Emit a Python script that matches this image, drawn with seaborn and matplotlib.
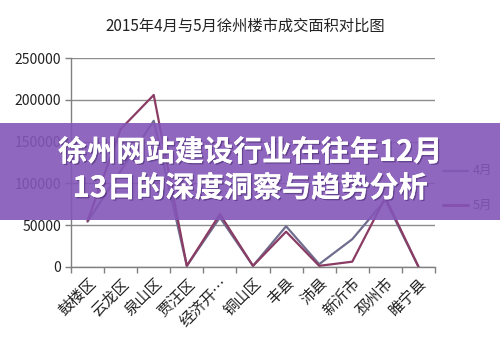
import matplotlib
matplotlib.use("Agg")
import matplotlib.pyplot as plt
import matplotlib.patheffects as pe
import seaborn as sns
import pandas as pd
import numpy as np
from matplotlib.patches import Rectangle

categories = ["鼓楼区", "云龙区", "泉山区", "贾汪区", "经济开…", "铜山区", "丰县", "沛县", "新沂市", "邳州市", "睢宁县"]
april = [54000, 115000, 175000, 1000, 59000, 1000, 48500, 3000, 33000, 80000, 0]
may = [55000, 165000, 206000, 1000, 63000, 1000, 42000, 1000, 6000, 83000, 0]
series_names = ["4月", "5月"]
yticks = [0, 50000, 100000, 150000, 200000, 250000]
title = "2015年4月与5月徐州楼市成交面积对比图"
banner_lines = ["徐州网站建设行业在往年12月", "13日的深度洞察与趋势分析"]

sns.set_theme(style="white")
plt.rcParams['font.family'] = ['Noto Sans CJK SC', 'DejaVu Sans']

df = pd.DataFrame({
    "cat": list(range(len(categories))) * 2,
    "value": april + may,
    "series": [series_names[0]] * len(categories) + [series_names[1]] * len(categories),
})

fig = plt.figure(figsize=(5, 3.45), dpi=100)
ax = fig.add_axes([0.142, 0.227, 0.728, 0.604])
palette = {"4月": "#6f6d8e", "5月": "#8a3c64"}
sns.lineplot(data=df, x="cat", y="value", hue="series", palette=palette, ax=ax,
             linewidth=1.6, legend=False, sort=False)

ax.set_xlim(-0.5, len(categories) - 0.5)
ax.set_ylim(0, 250000)
ax.set_yticks(yticks)
ax.set_yticklabels([str(v) for v in yticks], fontsize=10, color="#222222")
ax.set_xticks(range(len(categories)))
ax.set_xticklabels(categories, rotation=45, ha="right", rotation_mode="anchor", fontsize=11, color="#222222")
ax.set_xticks(np.arange(-0.5, len(categories), 1), minor=True)
ax.tick_params(axis="x", which="major", length=0, pad=6)
ax.tick_params(axis="x", which="minor", length=4, color="#808080", width=1, direction="out", bottom=True)
ax.tick_params(axis="y", length=4, color="#808080", width=1, direction="out", left=True, pad=3)
ax.yaxis.grid(True, color="#8c8c8c", linewidth=1)
ax.set_axisbelow(True)
for s in ["top", "right"]:
    ax.spines[s].set_visible(False)
for s in ["left", "bottom"]:
    ax.spines[s].set_color("#808080")
    ax.spines[s].set_linewidth(1)
ax.set_xlabel("")
ax.set_ylabel("")

fig.text(0.49, 0.925, title, ha="center", va="center", fontsize=11, color="#222222")

# legend
for i, name in enumerate(series_names):
    y = 0.505 - i * 0.1
    fig.add_artist(plt.Line2D([0.886, 0.935], [y, y], color=palette[name], linewidth=1.6 if i == 0 else 2.2, transform=fig.transFigure))
    fig.text(0.945, y, name, ha="left", va="center", fontsize=9, color="#222222")

# banner overlay
fig.add_artist(Rectangle((0, 1 - 220 / 345), 1, (220 - 123) / 345, transform=fig.transFigure,
                         facecolor="#8456b8", alpha=0.9, edgecolor="none", zorder=5))
shadow = [pe.withSimplePatchShadow(offset=(1, -1), shadow_rgbFace="#3a2060", alpha=0.5), pe.Normal()]
fig.text(0.5, 1 - 152 / 345, banner_lines[0], ha="center", va="center", fontsize=21,
         fontweight="bold", color="white", zorder=6, path_effects=shadow)
fig.text(0.5, 1 - 188 / 345, banner_lines[1], ha="center", va="center", fontsize=21,
         fontweight="bold", color="white", zorder=6, path_effects=shadow)

fig.savefig("out.png", dpi=100)
